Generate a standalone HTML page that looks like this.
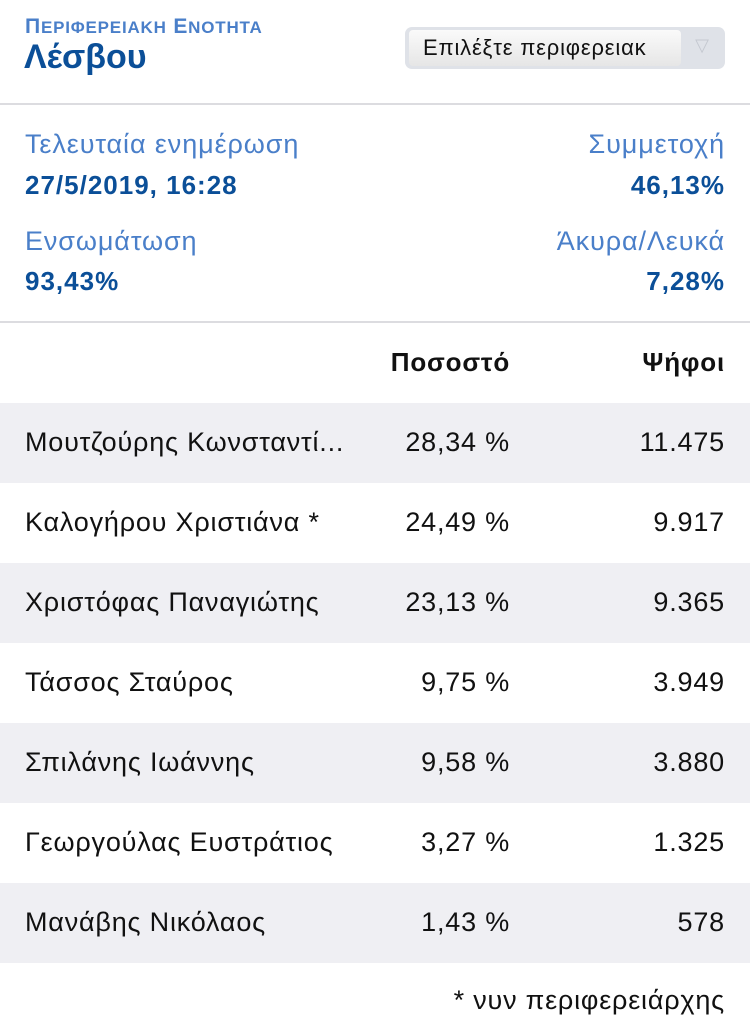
<!DOCTYPE html>
<html><head><meta charset="utf-8"><style>
body{margin:0;width:750px;height:1035px;background:#fff;position:relative;overflow:hidden;font-family:"Liberation Sans","DejaVu Sans",sans-serif;}
.a{position:absolute;white-space:nowrap;}
.lbl{color:#4a7fc9;font-size:27px;letter-spacing:0.9px;}
.val{color:#0b4f98;font-size:26px;font-weight:bold;letter-spacing:1px;}
.r{right:25px;text-align:right;}
.row{position:absolute;left:0;width:750px;height:80px;}
.row.s{background:#efeff3;}
.row span{position:absolute;top:24px;font-size:27px;color:#111;letter-spacing:0.8px;}
.n{left:25px;}.p{right:240px;}.v{right:25px;}
</style></head><body>
<div class="a" style="left:25px;top:15px;color:#4a7fc9;font-size:21px;font-weight:bold;letter-spacing:0.8px;">Π<span style="font-size:17px">ΕΡΙΦΕΡΕΙΑΚΗ</span> Ε<span style="font-size:17px">ΝΟΤΗΤΑ</span></div>
<div class="a" style="left:24px;top:38px;color:#0b4f98;font-size:34px;font-weight:bold;">Λέσβου</div>
<div class="a" style="left:405px;top:27px;width:320px;height:42px;border-radius:7px;background:#dfe2e8;">
 <div style="position:absolute;left:4px;top:3px;width:272px;height:36px;border-radius:4px;background:linear-gradient(#fafafa,#e6e6e6);font-size:22px;letter-spacing:0.8px;color:#111;line-height:36px;padding-left:14px;box-sizing:border-box;">Επιλέξτε περιφερειακ</div>
 <div style="position:absolute;right:16px;top:8px;color:#c4c8d0;font-size:18px;">▽</div>
</div>
<div class="a" style="left:0;top:103px;width:750px;height:2px;background:#dcdce0;"></div>
<div class="a lbl" style="left:25px;top:129px;">Τελευταία ενημέρωση</div>
<div class="a val" style="left:25px;top:170px;">27/5/2019, 16:28</div>
<div class="a lbl r" style="top:129px;">Συμμετοχή</div>
<div class="a val r" style="top:170px;">46,13%</div>
<div class="a lbl" style="left:25px;top:226px;">Ενσωμάτωση</div>
<div class="a val" style="left:25px;top:266px;">93,43%</div>
<div class="a lbl r" style="top:226px;">Άκυρα/Λευκά</div>
<div class="a val r" style="top:266px;">7,28%</div>
<div class="a" style="left:0;top:321px;width:750px;height:2px;background:#dcdce0;"></div>
<div class="a" style="right:240px;top:347px;font-size:26px;font-weight:bold;color:#111;letter-spacing:0.8px;">Ποσοστό</div>
<div class="a" style="right:25px;top:347px;font-size:26px;font-weight:bold;color:#111;letter-spacing:0.8px;">Ψήφοι</div>
<div class="row s" style="top:403px"><span class="n">Μουτζούρης Κωνσταντί...</span><span class="p">28,34 %</span><span class="v">11.475</span></div>
<div class="row" style="top:483px"><span class="n">Καλογήρου Χριστιάνα *</span><span class="p">24,49 %</span><span class="v">9.917</span></div>
<div class="row s" style="top:563px"><span class="n">Χριστόφας Παναγιώτης</span><span class="p">23,13 %</span><span class="v">9.365</span></div>
<div class="row" style="top:643px"><span class="n">Τάσσος Σταύρος</span><span class="p">9,75 %</span><span class="v">3.949</span></div>
<div class="row s" style="top:723px"><span class="n">Σπιλάνης Ιωάννης</span><span class="p">9,58 %</span><span class="v">3.880</span></div>
<div class="row" style="top:803px"><span class="n">Γεωργούλας Ευστράτιος</span><span class="p">3,27 %</span><span class="v">1.325</span></div>
<div class="row s" style="top:883px"><span class="n">Μανάβης Νικόλαος</span><span class="p">1,43 %</span><span class="v">578</span></div>
<div class="a" style="right:25px;top:985px;font-size:27px;color:#111;letter-spacing:0.8px;">* νυν περιφερειάρχης</div>
</body></html>
